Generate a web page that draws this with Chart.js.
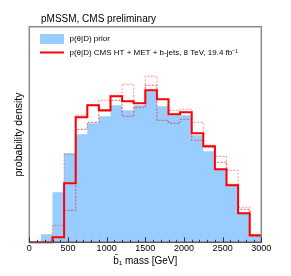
<!DOCTYPE html>
<html>
<head>
<meta charset="utf-8">
<script src="https://cdn.jsdelivr.net/npm/chart.js@4"></script>
<style>
  body { margin: 0; background: #fff; }
  canvas { display: block; }
</style>
</head>
<body>
<canvas id="chart" width="291" height="276"></canvas>
<script>
// lower edges of the 150 GeV bins
const binLow = [0, 150, 300, 450, 600, 750, 900, 1050, 1200, 1350, 1500, 1650, 1800, 1950, 2100, 2250, 2400, 2550, 2700, 2850];
const xMax = 3000;

// probability density (arbitrary units)
const prior = [0, 8, 50, 89, 108, 119, 126, 137, 132, 137, 151, 136, 127, 127, 107, 91, 73, 56, 29, 7];
const posterior = [0, 0, 5, 59, 125, 137, 132, 146, 141, 139, 152, 143, 128, 130, 109, 96, 73, 57, 29, 7];
const postUp = [0, 0, 17, 88, 127, 138, 142, 147, 158, 139, 166, 143, 132, 133, 120, 97, 86, 72, 35, 7];
const postDown = [0, 0, 5, 32, 113, 120, 131, 142, 126, 135, 157, 122, 119, 123, 102, 95, 80, 58, 33, 6];

const titleText = 'pMSSM, CMS preliminary';
const xTitle = 'b\u2081 mass [GeV]';
const legendPrior = 'p(\u03b8|D) prior';
const legendPost = 'p(\u03b8|D) CMS HT + MET + b-jets, 8 TeV, 19.4 fb\u207b\u00b9';

const FONT = '"Liberation Sans", Arial, Helvetica, sans-serif';
const BLUE = 'rgb(153, 204, 255)';

function steps(vals) {
    const pts = binLow.map((x, i) => ({ x: x, y: vals[i] }));
    pts.push({ x: xMax, y: vals[vals.length - 1] });
    return pts;
}

const framePlugin = {
    id: 'frame',
    afterDraw(chart) {
        const ctx = chart.ctx;
        const a = chart.chartArea;
        const xs = chart.scales.x;
        ctx.save();
        // frame
        ctx.strokeStyle = '#8a8a8a';
        ctx.lineWidth = 1.5;
        ctx.strokeRect(a.left, a.top, a.right - a.left, a.bottom - a.top);
        ctx.strokeStyle = '#555';
        ctx.lineWidth = 1.2;
        ctx.beginPath();
        ctx.moveTo(a.left, a.bottom);
        ctx.lineTo(a.right, a.bottom);
        ctx.stroke();
        // tick marks pointing inward
        ctx.strokeStyle = '#333';
        ctx.lineWidth = 1;
        xs.ticks.forEach(t => {
            const px = Math.round(xs.getPixelForValue(t.value)) + 0.5;
            const len = t.value % 500 === 0 ? 5 : 2.5;
            ctx.beginPath();
            ctx.moveTo(px, a.bottom);
            ctx.lineTo(px, a.bottom - len);
            ctx.stroke();
        });
        // title
        ctx.fillStyle = '#000';
        ctx.font = '10px ' + FONT;
        ctx.textBaseline = 'middle';
        ctx.textAlign = 'left';
        ctx.fillText(titleText, 41, 19);
        // tilde over the b of the x title
        const tw = ctx.measureText(xTitle).width;
        const bw = ctx.measureText('b').width;
        const bx = (a.left + a.right) / 2 - tw / 2;
        ctx.font = '7px ' + FONT;
        const tlw = ctx.measureText('~').width;
        ctx.fillText('~', bx + bw / 2 - tlw / 2 + 0.3, 255.5);
        // y axis title
        ctx.save();
        ctx.translate(19, (a.top + a.bottom) / 2);
        ctx.rotate(-Math.PI / 2);
        ctx.textAlign = 'center';
        ctx.font = '10.5px ' + FONT;
        ctx.fillText('probability density', 0, 0);
        ctx.restore();
        // legend
        ctx.fillStyle = BLUE;
        ctx.fillRect(40, 34, 24, 10);
        ctx.strokeStyle = '#ff0000';
        ctx.lineWidth = 2;
        ctx.beginPath();
        ctx.moveTo(40, 52.5);
        ctx.lineTo(64, 52.5);
        ctx.stroke();
        ctx.fillStyle = '#000';
        ctx.font = '8px ' + FONT;
        ctx.textAlign = 'left';
        ctx.fillText(legendPrior, 69.5, 39);
        ctx.fillText(legendPost, 69.5, 52.5);
        ctx.restore();
    }
};

new Chart(document.getElementById('chart'), {
    type: 'line',
    data: {
        datasets: [
            {
                label: 'posterior',
                data: steps(posterior),
                stepped: 'before',
                borderColor: '#ff0000',
                borderWidth: 2,
                pointRadius: 0,
                fill: false,
                clip: false,
                order: 0
            },
            {
                label: 'posterior up',
                data: steps(postUp),
                stepped: 'before',
                borderColor: 'rgba(255, 60, 60, 0.45)',
                borderWidth: 1.2,
                borderDash: [2, 1.5],
                pointRadius: 0,
                fill: false,
                order: 1
            },
            {
                label: 'posterior down',
                data: steps(postDown),
                stepped: 'before',
                borderColor: 'rgba(220, 40, 60, 0.6)',
                borderWidth: 1.2,
                borderDash: [2, 1.5],
                pointRadius: 0,
                fill: false,
                order: 2
            },
            {
                label: 'prior',
                data: steps(prior),
                stepped: 'before',
                borderWidth: 0,
                borderColor: BLUE,
                backgroundColor: BLUE,
                pointRadius: 0,
                fill: 'origin',
                order: 3
            }
        ]
    },
    options: {
        responsive: false,
        devicePixelRatio: 1,
        animation: false,
        layout: { padding: { left: 29.3, right: 29.7, top: 26.7, bottom: 0 } },
        plugins: {
            legend: { display: false },
            tooltip: { enabled: false }
        },
        scales: {
            x: {
                type: 'linear',
                min: 0,
                max: xMax,
                grid: { display: false, drawTicks: false, tickLength: 0 },
                border: { display: false },
                ticks: {
                    stepSize: 100,
                    autoSkip: false,
                    maxRotation: 0,
                    minRotation: 0,
                    padding: 1,
                    color: '#000',
                    font: { family: FONT, size: 9 },
                    callback: function(v) { return v % 500 === 0 ? String(v) : ''; }
                },
                title: {
                    display: true,
                    text: xTitle,
                    color: '#000',
                    font: { family: FONT, size: 10 },
                    padding: { top: 0, bottom: 8.3 }
                },
                afterFit: function(scale) { scale.height = 33.7; }
            },
            y: {
                display: false,
                min: 0,
                max: 215.6
            }
        }
    },
    plugins: [framePlugin]
});
</script>
</body>
</html>
